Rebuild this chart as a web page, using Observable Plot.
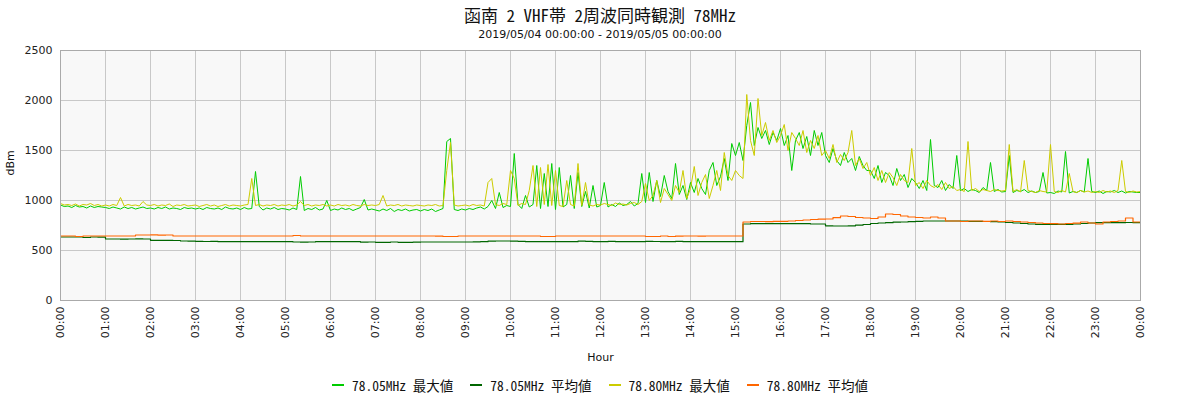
<!DOCTYPE html>
<html>
<head>
<meta charset="utf-8">
<script src="https://cdn.jsdelivr.net/npm/d3@7"></script>
<script src="https://cdn.jsdelivr.net/npm/@observablehq/plot@0.6"></script>
<style>
  html, body { margin: 0; padding: 0; background: #fff; }
  #header { height: 45px; text-align: center; color: #111; }
  #title { font-family: "Noto Sans CJK JP", sans-serif; font-size: 17px; line-height: 20px; padding-top: 5px; font-feature-settings: "hwid"; }
  #subtitle { font-family: "DejaVu Sans", sans-serif; font-size: 11px; line-height: 14px; margin-top: 3px; }
  #chart { height: 325px; }
  #chart svg { display: block; }
  #legend { height: 30px; display: flex; justify-content: center; align-items: center; gap: 17px; font-family: "Noto Sans CJK JP", sans-serif; font-size: 13.5px; font-feature-settings: "hwid"; color: #111; }
  .item { display: flex; align-items: center; }
  .sw { width: 12px; height: 2px; margin-right: 8px; }
</style>
</head>
<body>
<div id="header">
  <div id="title">函南 2 VHF帯 2周波同時観測 78MHz</div>
  <div id="subtitle">2019/05/04 00:00:00 - 2019/05/05 00:00:00</div>
</div>
<div id="chart"></div>
<div id="legend"></div>
<script>
// ---- data ----
const seriesNames = ["78.05MHz 最大値", "78.05MHz 平均値", "78.80MHz 最大値", "78.80MHz 平均値"];
const seriesColors = ["#00cc00", "#006600", "#cccc00", "#ff6600"];
const yTickValues = [0, 500, 1000, 1500, 2000, 2500];
const startTime = "2019-05-04T00:00:00Z";

// 78.05MHz max, every 5 minutes, 00:00 .. 24:00
const max0505 = [
  955, 940, 945, 930, 950, 935, 940, 925, 945, 930, 940, 935,
  930, 920, 935, 925, 915, 935, 920, 930, 915, 925, 935, 920,
  925, 915, 930, 920, 935, 915, 925, 920, 910, 930, 920, 925,
  915, 925, 910, 930, 920, 915, 925, 910, 935, 920, 915, 925,
  910, 930, 915, 920, 1290, 940, 905, 925, 915, 930, 910, 920,
  915, 905, 925, 910, 1240, 900, 920, 910, 930, 905, 915, 1000,
  900, 915, 905, 925, 910, 920, 900, 915, 930, 1010, 905, 915,
  905, 895, 915, 900, 920, 890, 910, 900, 915, 895, 905, 910,
  895, 910, 900, 915, 890, 905, 920, 1590, 1620, 910, 900, 915,
  905, 920, 910, 925, 935, 915, 940, 1000, 920, 1080, 930, 950,
  940, 1470, 960, 920, 1050, 935, 960, 1350, 920, 1270, 940, 1370,
  910, 1330, 935, 960, 1250, 920, 1280, 940, 1090, 925, 1150, 935,
  950, 1180, 935, 960, 940, 975, 950, 960, 990, 945, 970, 1270,
  980, 1280, 990, 1200, 1040, 1250, 1090, 1020, 1370, 1060, 1150, 1010,
  1180, 1080, 1220, 1120, 1060, 1300, 1380, 1150, 1240, 1420, 1200, 1570,
  1450, 1580, 1400, 1750, 1980, 1550, 1730, 1620, 1700, 1560, 1680, 1600,
  1720, 1550, 1650, 1300, 1600, 1680, 1520, 1640, 1450, 1700, 1550, 1680,
  1450, 1380, 1520, 1400, 1350, 1480, 1380, 1420, 1300, 1440, 1350, 1300,
  1300, 1220, 1350, 1180, 1280, 1250, 1150, 1320, 1200, 1260, 1130, 1220,
  1180, 1120, 1200, 1100, 1610, 1150, 1130, 1200, 1100, 1160, 1120, 1450,
  1100, 1120, 1090, 1110, 1100, 1080, 1130, 1100, 1380, 1090, 1110, 1085,
  1090, 1450, 1080, 1100, 1090, 1110, 1080, 1095, 1080, 1090, 1280, 1075,
  1080, 1070, 1095, 1085, 1490, 1075, 1090, 1080, 1100, 1085, 1420, 1090,
  1080, 1095, 1070, 1090, 1085, 1100, 1080, 1095, 1075, 1090, 1085, 1080,
  1080
];

// 78.80MHz max, every 5 minutes, 00:00 .. 24:00
const max7880 = [
  970, 955, 960, 950, 965, 945, 960, 955, 970, 950, 960, 945,
  955, 945, 960, 950, 1030, 945, 960, 950, 955, 945, 990, 955,
  950, 960, 945, 955, 950, 965, 940, 955, 950, 960, 945, 950,
  955, 940, 950, 960, 945, 955, 940, 950, 960, 945, 955, 950,
  945, 955, 960, 1220, 950, 960, 945, 955, 950, 960, 945, 955,
  950, 960, 945, 955, 990, 950, 960, 945, 955, 950, 960, 945,
  955, 945, 960, 950, 955, 945, 960, 950, 945, 960, 950, 955,
  950, 960, 1050, 945, 955, 950, 960, 945, 955, 950, 945, 955,
  950, 945, 955, 950, 960, 945, 950, 1300, 1580, 955, 945, 950,
  955, 945, 960, 950, 955, 945, 1180, 1220, 960, 950, 970, 960,
  1300, 1220, 950, 970, 960, 1100, 1350, 940, 1330, 960, 1360, 950,
  1300, 950, 940, 1200, 960, 945, 1370, 950, 1180, 955, 945, 960,
  955, 970, 960, 950, 975, 960, 965, 955, 970, 980, 960, 990,
  1170, 1000, 1050, 1200, 980, 1120, 1060, 1000, 1150, 1080, 1300, 1020,
  1120, 1340, 1050, 1180, 1260, 1020, 1150, 1300, 1100, 1480, 1250, 1200,
  1300, 1250, 1220, 2060, 1600, 1450, 2020, 1650, 1780, 1600, 1700, 1580,
  1650, 1760, 1500, 1680, 1620, 1550, 1700, 1480, 1600, 1520, 1650, 1450,
  1500, 1420, 1560, 1380, 1460, 1400, 1480, 1700, 1350, 1420, 1320, 1380,
  1250, 1330, 1200, 1300, 1180, 1280, 1230, 1150, 1260, 1200, 1180, 1520,
  1150, 1180, 1120, 1200, 1150, 1130, 1160, 1110, 1180, 1120, 1140, 1100,
  1110, 1090, 1590, 1100, 1120, 1090, 1110, 1100, 1090, 1110, 1100, 1095,
  1100, 1560, 1090, 1110, 1085, 1400, 1100, 1090, 1080, 1100, 1090, 1085,
  1560, 1090, 1080, 1100, 1085, 1270, 1090, 1080, 1100, 1085, 1095, 1080,
  1090, 1080, 1100, 1085, 1095, 1080, 1100, 1400, 1090, 1080, 1095, 1085,
  1090
];

// 78.05MHz average, every 10 minutes, 00:00 .. 24:00
const avg0505 = [
  640, 640, 640, 635, 640, 638,
  620, 620, 618, 620, 622, 620,
  607, 607, 607, 605, 600, 598,
  597, 595, 597, 593, 593, 593,
  593, 593, 593, 593, 593, 593,
  593, 590, 588, 590, 593, 593,
  593, 593, 593, 593, 588, 590,
  587, 587, 590, 587, 587, 588,
  590, 590, 590, 590, 590, 590,
  590, 592, 593, 598, 600, 600,
  598, 597, 593, 593, 593, 593,
  593, 593, 593, 598, 597, 593,
  593, 597, 593, 593, 593, 593,
  597, 595, 593, 593, 597, 593,
  593, 593, 593, 593, 593, 593,
  593, 770, 773, 773, 773, 773,
  773, 773, 773, 773, 770, 770,
  752, 750, 750, 752, 758, 765,
  775, 780, 783, 788, 790, 793,
  797, 800, 800, 800, 800, 800,
  800, 797, 797, 795, 793, 790,
  785, 780, 775, 770, 767, 767,
  767, 767, 767, 770, 775, 780,
  783, 783, 783, 783, 785, 783,
  783
];

// 78.80MHz average, every 10 minutes, 00:00 .. 24:00
const avg7880 = [
  650, 650, 645, 650, 650, 650,
  650, 650, 650, 650, 660, 660,
  662, 658, 660, 650, 650, 650,
  650, 650, 650, 650, 650, 650,
  650, 650, 650, 650, 650, 650,
  650, 655, 650, 650, 650, 650,
  650, 650, 650, 650, 650, 650,
  650, 650, 650, 650, 650, 650,
  650, 650, 648, 645, 645, 650,
  650, 650, 650, 650, 650, 650,
  650, 650, 650, 650, 645, 645,
  650, 650, 650, 650, 650, 650,
  650, 650, 650, 650, 650, 650,
  645, 645, 650, 645, 648, 650,
  650, 648, 650, 650, 650, 650,
  650, 790, 795, 795, 793, 797,
  797, 800, 805, 810, 815, 818,
  820, 833, 850, 845, 835, 830,
  825, 840, 870, 865, 850, 840,
  835, 830, 840, 830, 800, 800,
  795, 800, 800, 797, 800, 795,
  800, 795, 790, 785, 780, 775,
  773, 770, 775, 778, 790, 780,
  770, 790, 795, 800, 830, 790,
  790
];

// ---- build tables ----
const t0 = new Date(startTime);
const toRows = (vals, stepMin) => vals.map((v, i) => ({t: d3.utcMinute.offset(t0, i * stepMin), v}));
const rowsMax0505 = toRows(max0505, 5);
const rowsMax7880 = toRows(max7880, 5);
const rowsAvg0505 = toRows(avg0505, 10);
const rowsAvg7880 = toRows(avg7880, 10);
const t1 = d3.utcDay.offset(t0, 1);
const hourTicks = d3.utcHour.range(t0, d3.utcMinute.offset(t1, 1));

const chart = Plot.plot({
  width: 1200,
  height: 325,
  marginLeft: 60,
  marginRight: 60,
  marginTop: 5,
  marginBottom: 70,
  style: {fontFamily: "DejaVu Sans, sans-serif", fontSize: "11px", background: "transparent", color: "#222"},
  x: {type: "utc", domain: [t0, t1]},
  y: {domain: [0, 2500]},
  marks: [
    Plot.frame({fill: "#f8f8f8", stroke: null}),
    Plot.gridX(hourTicks, {stroke: "#c8c8c8", strokeOpacity: 1}),
    Plot.gridY(yTickValues, {stroke: "#c8c8c8", strokeOpacity: 1}),
    Plot.axisX(hourTicks, {tickFormat: d3.utcFormat("%H:%M"), tickRotate: -90, tickSize: 0, tickPadding: 6, label: null}),
    Plot.axisY(yTickValues, {tickFormat: d => String(d), tickSize: 0, tickPadding: 8, label: null}),
    Plot.line(rowsMax0505, {x: "t", y: "v", stroke: seriesColors[0], strokeWidth: 1}),
    Plot.line(rowsAvg0505, {x: "t", y: "v", stroke: seriesColors[1], strokeWidth: 1.2, curve: "step-after", dy: 0.5}),
    Plot.line(rowsMax7880, {x: "t", y: "v", stroke: seriesColors[2], strokeWidth: 1}),
    Plot.line(rowsAvg7880, {x: "t", y: "v", stroke: seriesColors[3], strokeWidth: 1.2, curve: "step-after", dy: 0.5}),
    Plot.frame({stroke: "#aaaaaa", strokeOpacity: 1}),
    Plot.text(["Hour"], {frameAnchor: "bottom", dy: 60, text: d => d, fontSize: 11, fill: "#111"}),
    Plot.text(["dBm"], {frameAnchor: "left", dx: -50, rotate: -90, text: d => d, fontSize: 11, fill: "#111"})
  ]
});
document.getElementById("chart").appendChild(chart);

const legend = document.getElementById("legend");
seriesNames.forEach((name, i) => {
  const item = document.createElement("div");
  item.className = "item";
  const sw = document.createElement("span");
  sw.className = "sw";
  sw.style.background = seriesColors[i];
  const label = document.createElement("span");
  label.textContent = name;
  item.appendChild(sw);
  item.appendChild(label);
  legend.appendChild(item);
});
</script>
</body>
</html>
